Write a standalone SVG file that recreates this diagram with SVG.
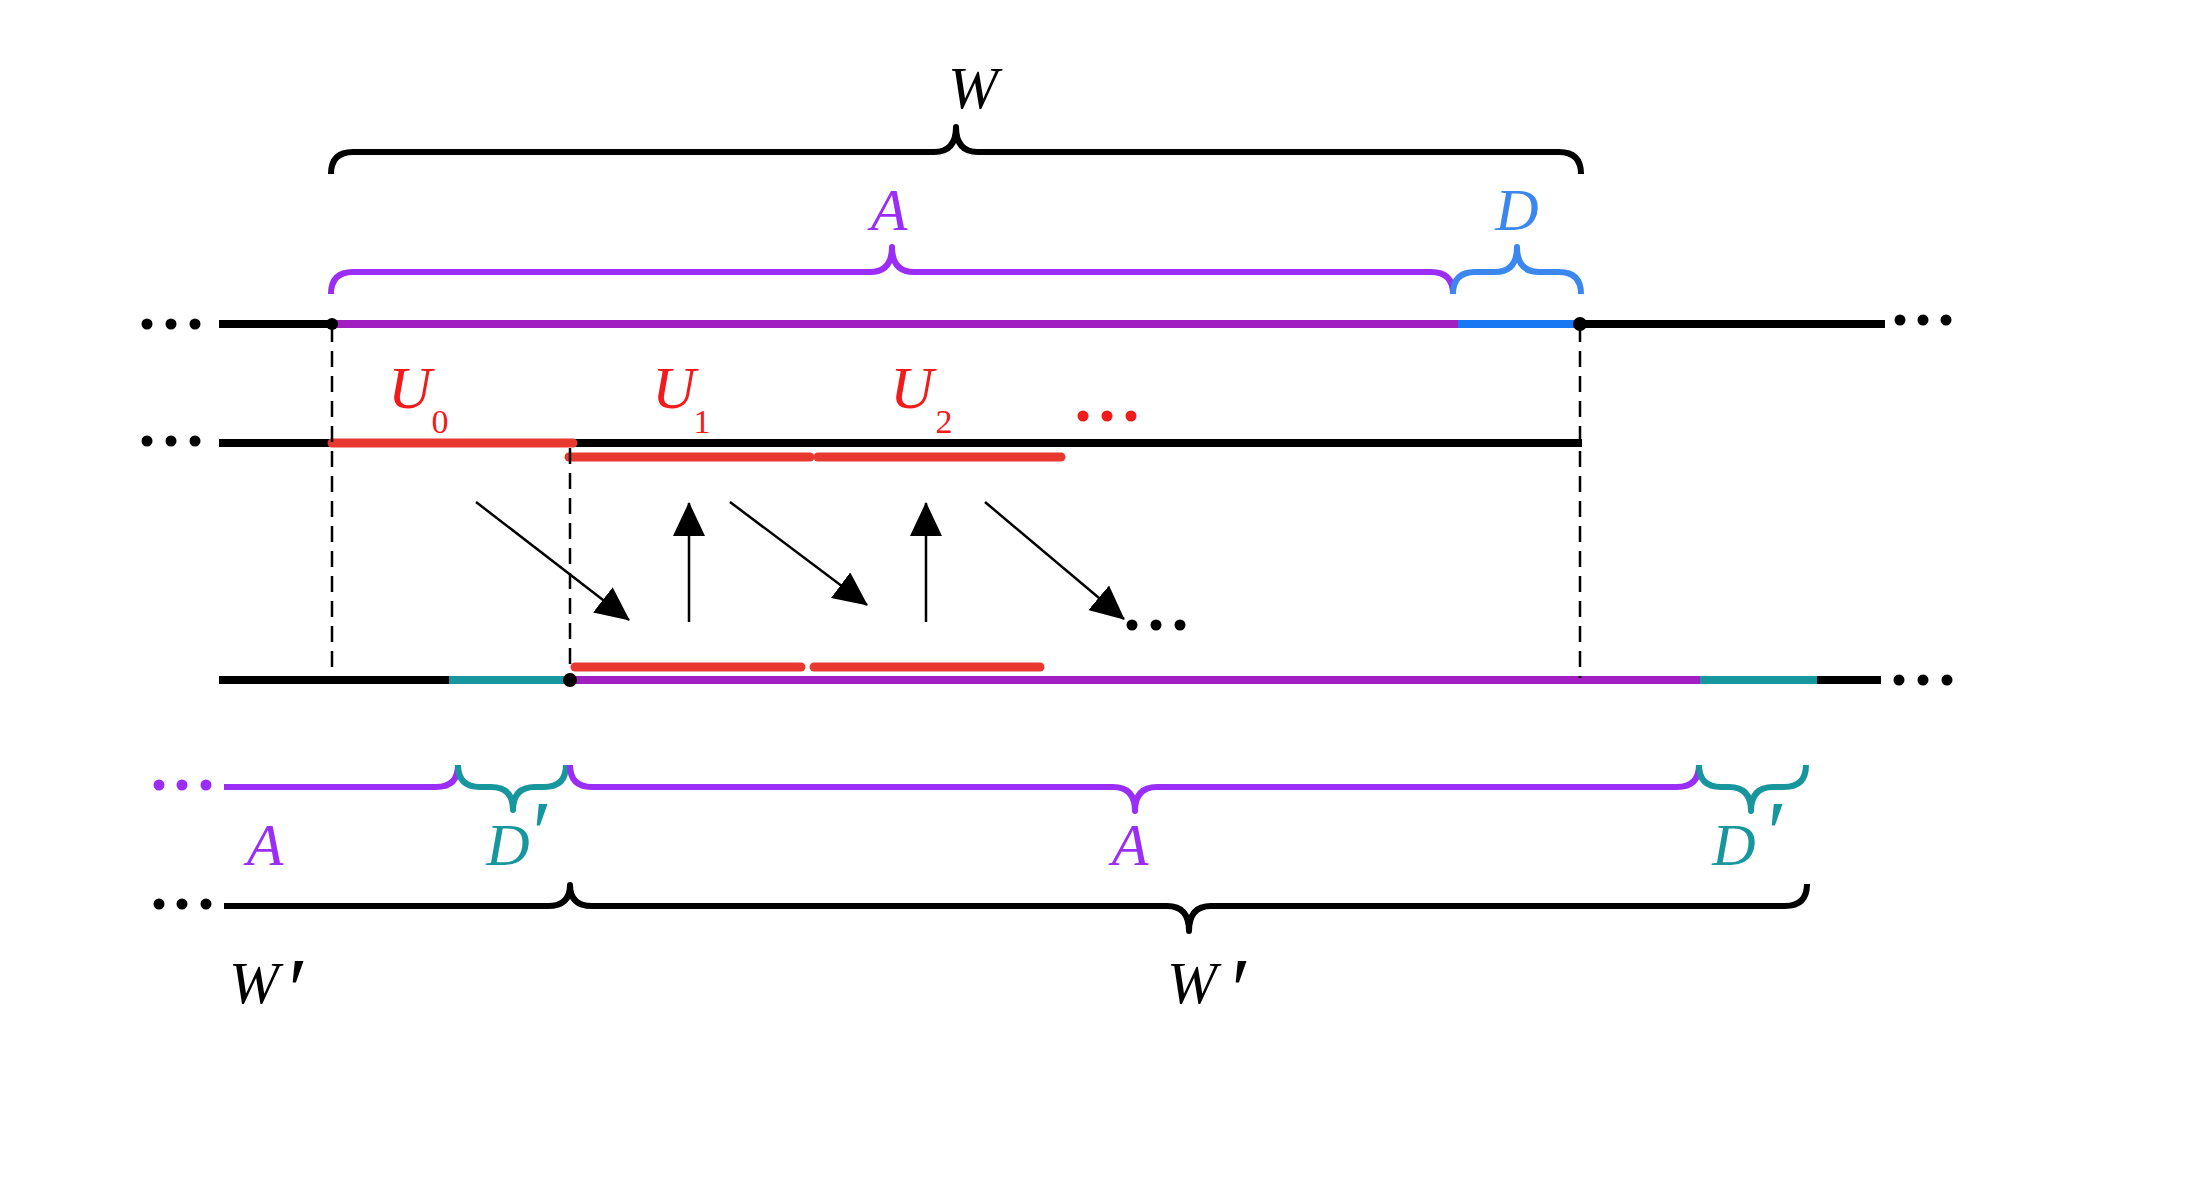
<svg xmlns="http://www.w3.org/2000/svg" width="2196" height="1182" viewBox="0 0 2196 1182">
<style>
.ln{fill:none;stroke-width:8;stroke-linecap:butt}
.red{fill:none;stroke:#e8382f;stroke-width:9;stroke-linecap:round}
.br{fill:none;stroke-width:6;stroke-linejoin:round;stroke-linecap:butt}
.dash{stroke:#000;stroke-width:2.5;stroke-dasharray:16 9;fill:none}
.arr{stroke:#000;stroke-width:2.5;fill:none;marker-end:url(#ah)}
.lab{font-family:"Liberation Serif","Times New Roman",serif;font-style:italic;font-size:60px;text-anchor:middle}
.sub{font-family:"Liberation Serif","Times New Roman",serif;font-style:normal;font-size:34px;text-anchor:middle}
.pr{font-family:"Liberation Serif","Times New Roman",serif;font-style:normal;font-size:90px;text-anchor:middle}
</style>
<defs>
<marker id="ah" markerUnits="userSpaceOnUse" viewBox="0 0 34 32" refX="33" refY="16" markerWidth="34" markerHeight="32" orient="auto">
<path d="M0,0 L34,16 L0,32 z" fill="#000"/>
</marker>
</defs>
<rect width="2196" height="1182" fill="#fff"/>

<g id="line1">
<line class="ln" x1="219" y1="324" x2="332" y2="324" stroke="#000"/>
<line class="ln" x1="332" y1="324" x2="1458" y2="324" stroke="#a11fc0"/>
<line class="ln" x1="1458" y1="324" x2="1580" y2="324" stroke="#1877f2"/>
<line class="ln" x1="1580" y1="324" x2="1885" y2="324" stroke="#000"/>
<circle cx="332" cy="324" r="6" fill="#000"/>
<circle cx="1580" cy="324" r="7" fill="#000"/>
<g fill="#000"><circle cx="147" cy="324" r="5.5"/><circle cx="171" cy="324" r="5.5"/><circle cx="195" cy="324" r="5.5"/>
<circle cx="1900" cy="320" r="5.5"/><circle cx="1923" cy="320" r="5.5"/><circle cx="1946" cy="320" r="5.5"/></g>
</g>

<g id="line2">
<line class="ln" x1="219" y1="443" x2="1582" y2="443" stroke="#000"/>
<line class="red" x1="332" y1="443" x2="573" y2="443" stroke-linecap="butt"/>
<g fill="#000"><circle cx="147" cy="441" r="5.5"/><circle cx="171" cy="441" r="5.5"/><circle cx="195" cy="441" r="5.5"/></g>
<line class="red" x1="569" y1="457" x2="810" y2="457"/>
<line class="red" x1="818" y1="457" x2="1061" y2="457"/>
<g fill="#f21a1a"><circle cx="1083" cy="416" r="5.5"/><circle cx="1107" cy="416" r="5.5"/><circle cx="1131" cy="416" r="5.5"/></g>
</g>

<g id="line3">
<line class="ln" x1="219" y1="680" x2="449" y2="680" stroke="#000"/>
<line class="ln" x1="449" y1="680" x2="570" y2="680" stroke="#17969e"/>
<line class="ln" x1="570" y1="680" x2="1700" y2="680" stroke="#a11fc0"/>
<line class="ln" x1="1700" y1="680" x2="1817" y2="680" stroke="#17969e"/>
<line class="ln" x1="1817" y1="680" x2="1881" y2="680" stroke="#000"/>
<circle cx="570" cy="680" r="7" fill="#000"/>
<line class="red" x1="575" y1="667" x2="801" y2="667"/>
<line class="red" x1="814" y1="667" x2="1040" y2="667"/>
<g fill="#000"><circle cx="1899" cy="680" r="5.5"/><circle cx="1923" cy="680" r="5.5"/><circle cx="1947" cy="680" r="5.5"/></g>
</g>

<g id="dashes">
<line class="dash" x1="332" y1="326" x2="332" y2="678"/>
<line class="dash" x1="570" y1="448" x2="570" y2="676"/>
<line class="dash" x1="1580" y1="326" x2="1580" y2="678"/>
</g>

<g id="connectors">
<line class="arr" x1="476" y1="502" x2="629" y2="620"/>
<line class="arr" x1="689" y1="622" x2="689" y2="503"/>
<line class="arr" x1="730" y1="502" x2="867" y2="605"/>
<line class="arr" x1="926" y1="622" x2="926" y2="503"/>
<line class="arr" x1="985" y1="502" x2="1124" y2="619"/>
<g fill="#000"><circle cx="1132" cy="625" r="5.5"/><circle cx="1156" cy="625" r="5.5"/><circle cx="1180" cy="625" r="5.5"/></g>
</g>

<g id="braces">
<path class="br" stroke="#000" d="M331,174 Q331,152 353,152 L934,152 Q956,152 956,127 Q956,152 978,152 L1559,152 Q1581,152 1581,174"/>
<path class="br" stroke="#9a2ef6" d="M331,294 Q331,272 353,272 L870,272 Q892,272 892,247 Q892,272 914,272 L1431,272 Q1453,272 1453,294"/>
<path class="br" stroke="#3b87ee" d="M1453,294 Q1453,272 1475,272 L1495,272 Q1517,272 1517,247 Q1517,272 1539,272 L1559,272 Q1581,272 1581,294"/>
<path class="br" stroke="#9a2ef6" d="M224,787 L436,787 Q458,787 458,765"/>
<path class="br" stroke="#17969e" d="M458,765 Q458,787 480,787 L491,787 Q513,787 513,810 Q513,787 535,787 L544,787 Q566,787 566,765"/>
<path class="br" stroke="#9a2ef6" d="M570,765 Q570,787 592,787 L1113,787 Q1135,787 1135,811 Q1135,787 1157,787 L1677,787 Q1699,787 1699,765"/>
<path class="br" stroke="#17969e" d="M1699,765 Q1699,787 1721,787 L1729,787 Q1751,787 1751,811 Q1751,787 1773,787 L1784,787 Q1806,787 1806,765"/>
<path class="br" stroke="#000" d="M224,906 L548,906 Q570,906 570,885 Q570,906 592,906 L1167,906 Q1189,906 1189,931 Q1189,906 1211,906 L1785,906 Q1807,906 1807,884"/>
<g fill="#9a2ef6"><circle cx="159" cy="785" r="5.5"/><circle cx="182" cy="785" r="5.5"/><circle cx="206" cy="785" r="5.5"/></g>
<g fill="#000"><circle cx="159" cy="904" r="5.5"/><circle cx="182" cy="904" r="5.5"/><circle cx="206" cy="904" r="5.5"/></g>
</g>

<g id="labels">
<text class="lab" x="973" y="108" fill="#000">W</text>
<text class="lab" x="889" y="230" fill="#9a2ef6">A</text>
<text class="lab" x="1517" y="230" fill="#3b87ee">D</text>
<text class="lab" x="410" y="408" fill="#f21a1a" font-size="58">U</text>
<text class="sub" x="440" y="433" fill="#f21a1a">0</text>
<text class="lab" x="674" y="408" fill="#f21a1a" font-size="58">U</text>
<text class="sub" x="702" y="433" fill="#f21a1a">1</text>
<text class="lab" x="912" y="408" fill="#f21a1a" font-size="58">U</text>
<text class="sub" x="944" y="433" fill="#f21a1a">2</text>
<text class="lab" x="265" y="865" fill="#9a2ef6">A</text>
<text class="lab" x="508" y="865" fill="#17969e">D</text>
<text class="pr" x="542" y="864" fill="#17969e">′</text>
<text class="lab" x="1130" y="865" fill="#9a2ef6">A</text>
<text class="lab" x="1734" y="865" fill="#17969e">D</text>
<text class="pr" x="1777" y="864" fill="#17969e">′</text>
<text class="lab" x="254" y="1003" fill="#000">W</text>
<text class="pr" x="298" y="1021" fill="#000">′</text>
<text class="lab" x="1192" y="1003" fill="#000">W</text>
<text class="pr" x="1241" y="1021" fill="#000">′</text>
</g>
</svg>
